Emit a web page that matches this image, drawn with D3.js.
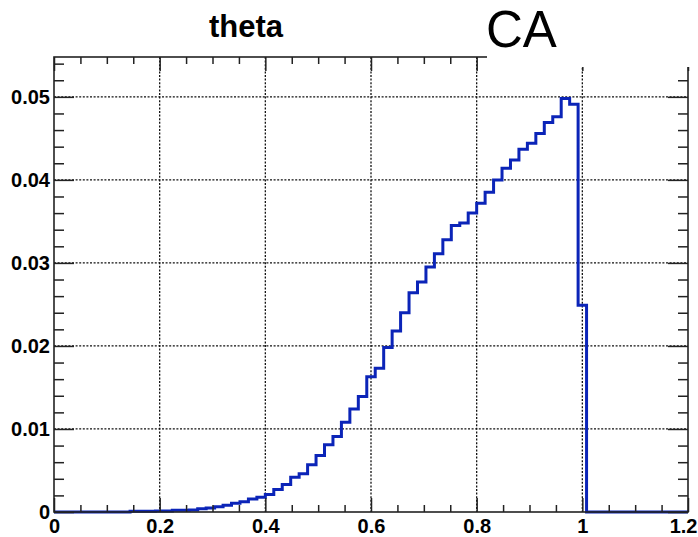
<!DOCTYPE html>
<html>
<head>
<meta charset="utf-8">
<script src="https://cdn.jsdelivr.net/npm/d3@7"></script>
<style>
  html, body { margin: 0; padding: 0; background: #ffffff; }
  svg { display: block; }
  .tick text { font-family: "Liberation Sans", Arial, Helvetica, sans-serif; font-weight: bold; font-size: 20px; fill: #000; }
</style>
</head>
<body>
<svg id="chart" width="698" height="537"></svg>
<script>
// Histogram "theta": 75 bins of width 0.016 on [0, 1.2]
const histTitle = "theta";
const cornerLabel = "CA";
const xMin = 0;
const binWidth = 0.016;
const binContents = [
  0, 0, 0, 0, 0, 0, 0, 0, 0,
  0.0001, 0.0001, 0.0001, 0.00012, 0.00012,
  0.0002, 0.0002, 0.00025, 0.0004, 0.00048,
  0.00064, 0.0008, 0.00105, 0.00124, 0.00156, 0.00177,
  0.00212, 0.0027, 0.0033, 0.0042, 0.0046, 0.0057, 0.0068,
  0.0081, 0.0091, 0.0108, 0.0124, 0.0139, 0.0163, 0.0173,
  0.0198, 0.0218, 0.0240, 0.0264, 0.0277, 0.0295, 0.0311,
  0.0328, 0.0345, 0.0348, 0.0360, 0.0372, 0.0385, 0.0400,
  0.0414, 0.0424, 0.0437, 0.0444, 0.0456, 0.0469, 0.0476,
  0.0498, 0.0491, 0.0249,
  0, 0, 0, 0, 0, 0, 0, 0, 0, 0, 0, 0
];

const xDomain = [0, 1.2];
const yDomain = [0, 0.0548];
const xTicks = [0, 0.2, 0.4, 0.6, 0.8, 1.0, 1.2];
const xTickLabels = ["0", "0.2", "0.4", "0.6", "0.8", "1", "1.2"];
const xMinorTicks = [0.05, 0.1, 0.15, 0.25, 0.3, 0.35, 0.45, 0.5, 0.55, 0.65, 0.7, 0.75, 0.85, 0.9, 0.95, 1.05, 1.1, 1.15];
const yTicks = [0, 0.01, 0.02, 0.03, 0.04, 0.05];
const yTickLabels = ["0", "0.01", "0.02", "0.03", "0.04", "0.05"];
const yMinorTicks = [0.002, 0.004, 0.006, 0.008, 0.012, 0.014, 0.016, 0.018, 0.022, 0.024, 0.026, 0.028,
                     0.032, 0.034, 0.036, 0.038, 0.042, 0.044, 0.046, 0.048, 0.052, 0.054];

const frame = { left: 54, right: 688, top: 57, bottom: 512 };
const svg = d3.select("#chart");

const x = d3.scaleLinear().domain(xDomain).range([frame.left, frame.right]);
const y = d3.scaleLinear().domain(yDomain).range([frame.bottom, frame.top]);

svg.append("rect").attr("width", 698).attr("height", 537).attr("fill", "#fff");

// dotted grid at the major ticks
const grid = svg.append("g").attr("stroke", "#111").attr("stroke-width", 1.3)
  .attr("stroke-dasharray", "2,1.6");
grid.selectAll("line.gx").data(xTicks.slice(1, -1)).join("line")
  .attr("x1", d => x(d)).attr("x2", d => x(d))
  .attr("y1", frame.top).attr("y2", frame.bottom);
grid.selectAll("line.gy").data(yTicks.slice(1)).join("line")
  .attr("x1", frame.left).attr("x2", frame.right)
  .attr("y1", d => y(d)).attr("y2", d => y(d));

// histogram outline as steps
const stepPts = [];
binContents.forEach((v, i) => {
  const lo = xMin + i * binWidth, hi = xMin + (i + 1) * binWidth;
  stepPts.push([lo, v], [hi, v]);
});
const line = d3.line().x(d => x(d[0])).y(d => y(d[1]));
svg.append("path").datum(stepPts)
  .attr("d", line)
  .attr("fill", "none")
  .attr("stroke", "#0b24b8")
  .attr("stroke-width", 3)
  .attr("stroke-linejoin", "miter");

// axes with inward ticks on all four sides
function styleAxis(g) {
  g.select(".domain").remove();
  g.selectAll(".tick line").attr("stroke", "#222").attr("stroke-width", 1.5);
}
const xLabel = d => xTickLabels[xTicks.indexOf(d)];
const yLabel = d => yTickLabels[yTicks.indexOf(d)];

svg.append("g").attr("transform", `translate(0,${frame.bottom})`)
  .call(d3.axisBottom(x).tickValues(xMinorTicks).tickSize(-7).tickFormat(""))
  .call(styleAxis);
const xAxisG = svg.append("g").attr("transform", `translate(0,${frame.bottom})`)
  .call(d3.axisBottom(x).tickValues(xTicks).tickSize(-14).tickPadding(7).tickFormat(xLabel))
  .call(styleAxis);
// keep the last label inside the page edge
xAxisG.selectAll(".tick text").filter(d => d === xTicks[xTicks.length - 1])
  .attr("text-anchor", "end").attr("dx", 9);
svg.append("g").attr("transform", `translate(0,${frame.top})`)
  .call(d3.axisTop(x).tickValues(xMinorTicks).tickSize(-7).tickFormat(""))
  .call(styleAxis);
svg.append("g").attr("transform", `translate(0,${frame.top})`)
  .call(d3.axisTop(x).tickValues(xTicks).tickSize(-14).tickFormat(""))
  .call(styleAxis);
svg.append("g").attr("transform", `translate(${frame.left},0)`)
  .call(d3.axisLeft(y).tickValues(yMinorTicks).tickSize(-10).tickFormat(""))
  .call(styleAxis);
svg.append("g").attr("transform", `translate(${frame.left},0)`)
  .call(d3.axisLeft(y).tickValues(yTicks).tickSize(-20).tickPadding(4).tickFormat(yLabel))
  .call(styleAxis);
svg.append("g").attr("transform", `translate(${frame.right},0)`)
  .call(d3.axisRight(y).tickValues(yMinorTicks).tickSize(-10).tickFormat(""))
  .call(styleAxis);
svg.append("g").attr("transform", `translate(${frame.right},0)`)
  .call(d3.axisRight(y).tickValues(yTicks).tickSize(-20).tickFormat(""))
  .call(styleAxis);

// frame
svg.append("rect")
  .attr("x", frame.left).attr("y", frame.top)
  .attr("width", frame.right - frame.left).attr("height", frame.bottom - frame.top)
  .attr("fill", "none").attr("stroke", "#222").attr("stroke-width", 1.6);

// title
svg.append("text")
  .attr("x", 246).attr("y", 37)
  .attr("text-anchor", "middle")
  .attr("font-family", "Liberation Sans, Arial, Helvetica, sans-serif")
  .attr("font-weight", "bold").attr("font-size", 31)
  .text(histTitle);

// label box in the top-right corner
svg.append("rect").attr("x", 487).attr("y", 0).attr("width", 211).attr("height", 67).attr("fill", "#fff");
svg.append("text")
  .attr("x", 486).attr("y", 47)
  .attr("font-family", "Liberation Sans, Arial, Helvetica, sans-serif")
  .attr("font-size", 51)
  .text(cornerLabel);
</script>
</body>
</html>
